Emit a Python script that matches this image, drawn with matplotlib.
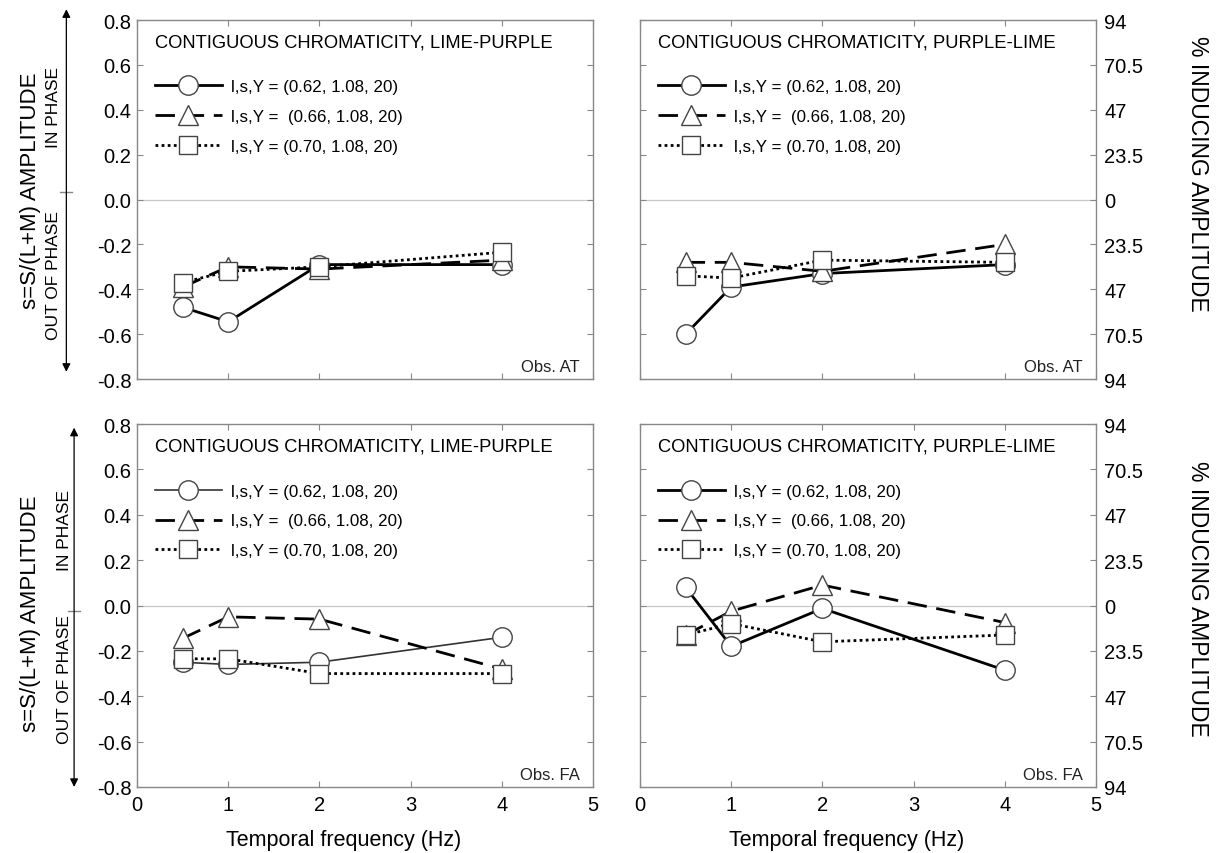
import matplotlib
matplotlib.use("Agg")
import matplotlib.pyplot as plt

plt.rcParams['font.family'] = ['Liberation Sans', 'DejaVu Sans']

# data
freq = [0.5, 1, 2, 4]

# top-left: lime-purple, Obs. AT
tl_circle = [-0.48, -0.545, -0.29, -0.29]
tl_triangle = [-0.39, -0.30, -0.31, -0.27]
tl_square = [-0.37, -0.32, -0.30, -0.235]

# top-right: purple-lime, Obs. AT
tr_circle = [-0.60, -0.39, -0.33, -0.29]
tr_triangle = [-0.28, -0.28, -0.32, -0.20]
tr_square = [-0.34, -0.35, -0.27, -0.28]

# bottom-left: lime-purple, Obs. FA
bl_circle = [-0.25, -0.26, -0.25, -0.14]
bl_triangle = [-0.145, -0.05, -0.06, -0.28]
bl_square = [-0.235, -0.235, -0.30, -0.30]

# bottom-right: purple-lime, Obs. FA
br_circle = [0.08, -0.18, -0.013, -0.285]
br_triangle = [-0.13, -0.025, 0.09, -0.075]
br_square = [-0.13, -0.08, -0.16, -0.13]

labels = ['l,s,Y = (0.62, 1.08, 20)', 'l,s,Y =  (0.66, 1.08, 20)', 'l,s,Y = (0.70, 1.08, 20)']
titles = ['CONTIGUOUS CHROMATICITY, LIME-PURPLE', 'CONTIGUOUS CHROMATICITY, PURPLE-LIME']
observers = ['Obs. AT', 'Obs. FA']
yticks = [0.8, 0.6, 0.4, 0.2, 0.0, -0.2, -0.4, -0.6, -0.8]
left_ticklabels = ['0.8', '0.6', '0.4', '0.2', '0.0', '-0.2', '-0.4', '-0.6', '-0.8']
right_ticklabels = ['94', '70.5', '47', '23.5', '0', '23.5', '47', '70.5', '94']

panels = [
    (tl_circle, tl_triangle, tl_square),
    (tr_circle, tr_triangle, tr_square),
    (bl_circle, bl_triangle, bl_square),
    (br_circle, br_triangle, br_square),
]

fig = plt.figure(figsize=(12.17, 8.54), dpi=100)
positions = [
    [0.1126, 0.555, 0.3747, 0.4204],
    [0.5259, 0.555, 0.3747, 0.4204],
    [0.1126, 0.0773, 0.3747, 0.425],
    [0.5259, 0.0773, 0.3747, 0.425],
]

spine_col = '#888888'
edge_col = '#444444'

for i, (circ, tri, sq) in enumerate(panels):
    ax = fig.add_axes(positions[i])
    row, col = divmod(i, 2)

    ax.axhline(0, color='#c8c8c8', lw=0.9, zorder=1)

    circle_lw = 1.2 if i == 2 else 2.0
    circle_col = '#333333' if i == 2 else 'black'
    h1, = ax.plot(freq, circ, '-', color=circle_col, lw=circle_lw, marker='o', ms=14,
                  mfc='white', mec=edge_col, mew=1.0, zorder=3)
    h2, = ax.plot(freq, tri, color='black', lw=2.0, dashes=(7, 3.5), marker='^', ms=14,
                  mfc='white', mec=edge_col, mew=1.0, zorder=4)
    h3, = ax.plot(freq, sq, color='black', lw=2.0, dashes=(1, 1.2), marker='s', ms=13,
                  mfc='white', mec=edge_col, mew=1.0, zorder=5)

    ax.set_xlim(0, 5)
    ax.set_ylim(-0.8, 0.8)
    ax.set_yticks(yticks)
    ax.set_xticks([0, 1, 2, 3, 4, 5])
    for sp in ax.spines.values():
        sp.set_color(spine_col)
        sp.set_linewidth(1.0)
    ax.tick_params(direction='in', length=4, width=0.8, color=spine_col,
                   top=True, right=True, labelsize=14.5)
    ax.tick_params(axis='y', pad=4)
    ax.tick_params(axis='x', pad=6)

    if col == 0:
        ax.set_yticklabels(left_ticklabels)
    else:
        ax.tick_params(labelleft=False, labelright=True)
        ax.tick_params(axis='y', pad=6)
        ax.set_yticklabels(right_ticklabels)

    if row == 0:
        ax.tick_params(labelbottom=False)
    else:
        ax.set_xticklabels(['0', '1', '2', '3', '4', '5'])
        ax.set_xlabel('Temporal frequency (Hz)', fontsize=15.5)
        ax.xaxis.set_label_coords(0.454, -0.115)

    ax.text(0.039, 0.939, titles[col], transform=ax.transAxes, fontsize=13.2,
            ha='left', va='center')
    ax.legend([h1, h2, h3], labels, loc='upper left', bbox_to_anchor=(0.039, 0.836),
              frameon=False, fontsize=12.2, handlelength=3.95, handletextpad=0.53,
              labelspacing=0.88, borderpad=0, borderaxespad=0)
    ax.text(0.971, 0.014, observers[row], transform=ax.transAxes, fontsize=12,
            ha='right', va='bottom', color='#222222')

    if col == 0:
        if row == 0:
            ax_x, y_top, y_bot, y_tick = -0.155, 1.03, 0.02, 0.52
            txt_x, in_y, out_y, lab_y = -0.184, 0.76, 0.29, 0.526
        else:
            ax_x, y_top, y_bot, y_tick = -0.138, 0.99, 0.0, 0.485
            txt_x, in_y, out_y, lab_y = -0.158, 0.71, 0.30, 0.48
        ax.annotate('', xy=(ax_x, y_top), xytext=(ax_x, y_bot), xycoords='axes fraction',
                    textcoords='axes fraction', annotation_clip=False,
                    arrowprops=dict(arrowstyle='<|-|>', color='black', lw=0.9,
                                    mutation_scale=12, shrinkA=0, shrinkB=0))
        ax.plot([ax_x - 0.014, ax_x + 0.012], [y_tick, y_tick], transform=ax.transAxes,
                color=spine_col, lw=1.0, clip_on=False)
        ax.text(txt_x, in_y, 'IN PHASE', transform=ax.transAxes, rotation=90,
                ha='center', va='center', fontsize=12.5)
        ax.text(txt_x, out_y, 'OUT OF PHASE', transform=ax.transAxes, rotation=90,
                ha='center', va='center', fontsize=12.5)
        ax.text(-0.234, lab_y, 's=S/(L+M) AMPLITUDE', transform=ax.transAxes, rotation=90,
                ha='center', va='center', fontsize=16)
    else:
        lab_y = 0.574 if row == 0 else 0.52
        ax.text(1.222, lab_y, '% INDUCING AMPLITUDE', transform=ax.transAxes, rotation=-90,
                ha='center', va='center', fontsize=16.5)

fig.savefig('out.png', dpi=100)
